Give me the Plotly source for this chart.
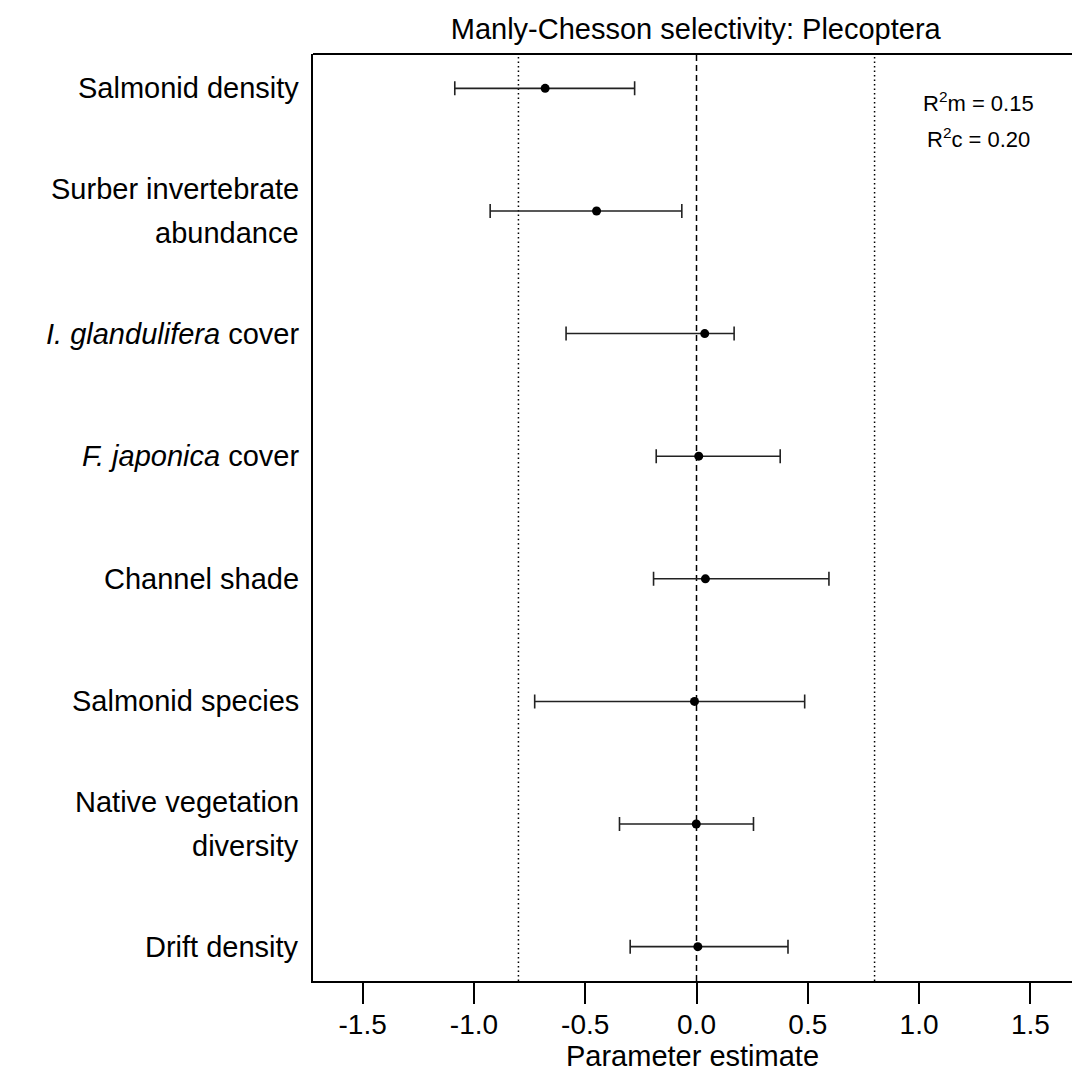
import plotly.graph_objects as go

# ---- data ----
categories = [
    "Salmonid density",
    "Surber invertebrate<br>abundance",
    "<i>I. glandulifera</i> cover",
    "<i>F. japonica</i> cover",
    "Channel shade",
    "Salmonid species",
    "Native vegetation<br>diversity",
    "Drift density",
]
estimates = [-0.680, -0.449, 0.037, 0.010, 0.040, -0.009, -0.001, 0.006]
lower_ci = [-1.086, -0.927, -0.586, -0.181, -0.193, -0.727, -0.346, -0.298]
upper_ci = [-0.278, -0.066, 0.169, 0.376, 0.595, 0.486, 0.256, 0.411]
x_ticks = [-1.5, -1.0, -0.5, 0.0, 0.5, 1.0, 1.5]
x_tick_labels = ["-1.5", "-1.0", "-0.5", "0.0", "0.5", "1.0", "1.5"]
ref_dotted = [-0.8, 0.8]
ref_dashed = 0.0
r2_texts = ["R<sup>2</sup>m = 0.15", "R<sup>2</sup>c = 0.20"]
title_text = "Manly-Chesson selectivity: Plecoptera"
x_title = "Parameter estimate"

FONT = "Liberation Sans, Arial, sans-serif"
ypos = list(range(len(categories)))

fig = go.Figure()
fig.add_trace(go.Scatter(
    x=estimates, y=ypos, mode="markers",
    marker=dict(color="black", size=9),
    error_x=dict(type="data", symmetric=False,
                 array=[u - e for u, e in zip(upper_ci, estimates)],
                 arrayminus=[e - l for e, l in zip(estimates, lower_ci)],
                 color="#222222", thickness=1.6, width=7),
    showlegend=False, hoverinfo="skip",
))

shapes = []
for v in ref_dotted:
    shapes.append(dict(type="line", xref="x", yref="paper", x0=v, x1=v, y0=0, y1=1,
                       line=dict(color="black", width=1.5, dash="1.5px,3px"), layer="below"))
shapes.append(dict(type="line", xref="x", yref="paper", x0=ref_dashed, x1=ref_dashed, y0=0, y1=1,
                   line=dict(color="black", width=1.5, dash="6px,4px"), layer="below"))
# top border
shapes.append(dict(type="line", xref="paper", yref="paper", x0=0, x1=1, y0=1, y1=1,
                   line=dict(color="black", width=2)))

annotations = []
for i, cat in enumerate(categories):
    lines = cat.split("<br>")
    n = len(lines)
    for j, ln in enumerate(lines):
        shift = (j - (n - 1) / 2) * 43.5
        annotations.append(dict(xref="paper", yref="y", x=0, y=i, xanchor="right", yanchor="middle",
                                xshift=-12, yshift=-shift, text=ln, showarrow=False,
                                font=dict(family=FONT, size=29, color="black")))
for k, t in enumerate(r2_texts):
    annotations.append(dict(xref="paper", yref="paper", x=0.877, y=0.948 - k * 0.039,
                            xanchor="center", yanchor="middle", text=t, showarrow=False,
                            font=dict(family=FONT, size=22, color="black")))

fig.update_layout(
    width=1072, height=1072,
    margin=dict(l=313, r=0, t=54, b=91),
    paper_bgcolor="white", plot_bgcolor="white",
    title=dict(text=title_text, x=0.649, xanchor="center", xref="container",
               y=0.973, yanchor="middle", font=dict(family=FONT, size=29, color="black")),
    xaxis=dict(range=[-1.723, 1.687], tickvals=x_ticks, ticktext=x_tick_labels,
               showgrid=False, zeroline=False, showline=True, linecolor="black", linewidth=2,
               ticks="outside", ticklen=21, tickwidth=1.5, tickcolor="black",
               ticklabelstandoff=-4,
               tickfont=dict(family=FONT, size=28, color="black"),
               title=dict(text=x_title, font=dict(family=FONT, size=29, color="black"), standoff=12)),
    yaxis=dict(range=[len(categories) - 1 + 0.28, -0.28], showgrid=False, zeroline=False,
               showline=True, linecolor="black", linewidth=2, showticklabels=False, ticks=""),
    shapes=shapes, annotations=annotations,
)

fig.write_html("out.html")
